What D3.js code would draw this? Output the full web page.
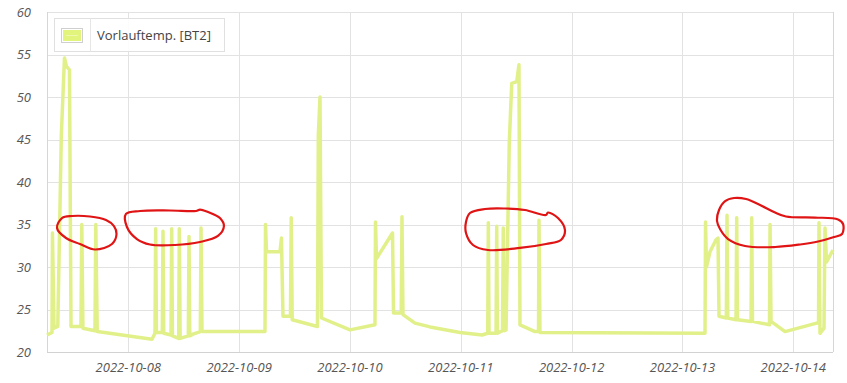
<!DOCTYPE html>
<html><head><meta charset="utf-8">
<script src="https://cdn.jsdelivr.net/npm/d3@7"></script>
<style>
html,body{margin:0;padding:0;background:#fff;}
svg{display:block;}
</style></head>
<body><svg id="chart" width="847" height="383"></svg>
<script>
const seriesName = "Vorlauftemp. [BT2]";

const times = [
  "2022-10-07 06:24","2022-10-07 07:29","2022-10-07 07:35","2022-10-07 07:55","2022-10-07 08:44",
  "2022-10-07 09:30","2022-10-07 10:11","2022-10-07 10:37","2022-10-07 11:16","2022-10-07 11:36",
  "2022-10-07 13:45","2022-10-07 13:56","2022-10-07 14:11","2022-10-07 16:47","2022-10-07 16:58",
  "2022-10-07 17:17","2022-10-08 05:08",
  "2022-10-08 05:47","2022-10-08 05:56","2022-10-08 06:06","2022-10-08 07:22","2022-10-08 07:31",
  "2022-10-08 07:41","2022-10-08 09:15","2022-10-08 09:24","2022-10-08 09:34","2022-10-08 10:55",
  "2022-10-08 11:03","2022-10-08 11:14","2022-10-08 13:00","2022-10-08 13:09","2022-10-08 13:19",
  "2022-10-08 14:01","2022-10-08 15:36","2022-10-08 15:45","2022-10-08 15:58","2022-10-09 05:36",
  "2022-10-09 05:43","2022-10-09 05:56","2022-10-09 08:51","2022-10-09 09:10","2022-10-09 09:30",
  "2022-10-09 11:07","2022-10-09 11:17","2022-10-09 11:30","2022-10-09 16:58","2022-10-09 17:09",
  "2022-10-09 17:31","2022-10-09 17:50","2022-10-10 00:01","2022-10-10 05:25","2022-10-10 05:32",
  "2022-10-10 05:45","2022-10-10 09:13","2022-10-10 09:26","2022-10-10 11:06","2022-10-10 11:16",
  "2022-10-10 11:29","2022-10-10 14:05","2022-10-10 17:20","2022-10-10 23:50","2022-10-11 04:36",
  "2022-10-11 05:50","2022-10-11 05:58","2022-10-11 06:07","2022-10-11 07:38","2022-10-11 07:47",
  "2022-10-11 07:56","2022-10-11 09:02","2022-10-11 09:12","2022-10-11 09:24","2022-10-11 09:48",
  "2022-10-11 10:30","2022-10-11 11:02","2022-10-11 12:07","2022-10-11 12:36","2022-10-11 12:49",
  "2022-10-11 16:04","2022-10-11 16:50","2022-10-11 16:56","2022-10-11 17:09","2022-10-13 04:53",
  "2022-10-13 05:00","2022-10-13 05:12","2022-10-13 05:58","2022-10-13 07:16","2022-10-13 07:42",
  "2022-10-13 07:55","2022-10-13 09:30","2022-10-13 09:39","2022-10-13 09:49","2022-10-13 11:36",
  "2022-10-13 11:45","2022-10-13 11:55","2022-10-13 14:51","2022-10-13 15:00","2022-10-13 15:10",
  "2022-10-13 18:51","2022-10-13 18:58","2022-10-13 19:11","2022-10-13 22:13","2022-10-14 05:04",
  "2022-10-14 05:28","2022-10-14 05:34","2022-10-14 05:47","2022-10-14 06:39","2022-10-14 06:52",
  "2022-10-14 07:12","2022-10-14 08:36"
];
const values = [
  22.0,22.3,34.0,22.8,23.0,
  45.5,54.6,53.6,53.2,23.0,
  23.0,35.0,22.8,22.5,35.0,
  22.4,21.5,
  22.2,34.5,22.3,22.3,34.2,
  22.2,22.0,34.5,21.9,21.6,
  34.5,21.6,21.9,33.6,21.9,
  22.1,22.4,34.6,22.4,22.4,
  35.0,31.8,31.8,33.4,24.2,
  24.2,35.8,23.8,23.0,45.5,
  50.0,24.0,22.6,23.2,35.3,
  31.0,34.0,24.6,24.6,35.9,
  24.4,23.4,22.95,22.3,22.0,
  22.2,35.2,22.2,22.2,34.8,
  22.2,22.5,34.6,22.5,22.6,
  44.6,51.6,51.8,53.8,23.2,
  22.4,22.4,35.5,22.3,22.2,
  35.3,30.0,31.8,33.2,33.4,
  24.2,24.0,36.1,24.0,23.8,
  35.8,23.8,23.6,35.8,23.6,
  23.2,35.0,23.6,22.4,23.4,
  23.4,35.2,22.2,22.8,34.6,
  30.6,32.0
];

const yTicks = [20, 25, 30, 35, 40, 45, 50, 55, 60];
const xTickDates = ["2022-10-08","2022-10-09","2022-10-10","2022-10-11","2022-10-12","2022-10-13","2022-10-14"];

// hand-drawn red marks: [days since 2022-10-08 00:00, value]
const annotationBase = "2022-10-08 00:00";
const loop1 = [[-0.643,34.59],[-0.598,35.76],[-0.508,36.0],[-0.346,35.94],[-0.201,35.53],[-0.129,34.82],[-0.106,33.88],[-0.147,32.71],[-0.300,32.06],[-0.436,32.71],[-0.562,33.41]];
const loop2 = [[-0.021,36.24],[0.106,36.59],[0.376,36.65],[0.611,36.59],[0.647,36.76],[0.719,36.47],[0.827,35.76],[0.863,34.82],[0.809,33.65],[0.647,32.94],[0.421,32.59],[0.196,32.65],[0.078,33.29],[-0.012,34.71]];
const loop3 = [[3.047,35.29],[3.083,36.35],[3.218,36.82],[3.398,36.88],[3.579,36.71],[3.769,36.12],[3.787,36.41],[3.877,35.76],[3.940,34.35],[3.904,33.18],[3.769,32.71],[3.534,32.24],[3.246,32.0],[3.110,32.59],[3.047,34.0]];
const loop4 = [[5.312,35.41],[5.330,36.71],[5.385,37.76],[5.466,38.12],[5.574,38.0],[5.700,37.29],[5.826,36.47],[5.934,35.94],[6.196,35.82],[6.404,35.59],[6.449,35.06],[6.440,33.88],[6.368,33.53],[6.224,33.0],[6.062,32.65],[5.836,32.35],[5.565,32.47],[5.412,33.29],[5.339,34.47]];
const annotationLoops = [loop1, loop2, loop3, loop4];

const W = 847, H = 383;
const margin = {top: 12, right: 14, bottom: 31, left: 47};
const parse = d3.timeParse("%Y-%m-%d %H:%M");
const parseDay = d3.timeParse("%Y-%m-%d");
const data = times.map((t, i) => ({t: parse(t), v: values[i]}));

const svg = d3.select("#chart");
const x = d3.scaleTime().domain(d3.extent(data, d => d.t)).range([margin.left, W - margin.right]);
const y = d3.scaleLinear().domain([20, 60]).range([H - margin.bottom, margin.top]);

const labelFont = "'Open Sans', sans-serif";

// horizontal grid
svg.append("g").selectAll("line").data(yTicks).join("line")
  .attr("x1", margin.left).attr("x2", W - margin.right)
  .attr("y1", d => Math.round(y(d)) + 0.5).attr("y2", d => Math.round(y(d)) + 0.5)
  .attr("stroke", d => d === 20 ? "#d2d2d2" : "#e2e2e2").attr("stroke-width", 1);

// vertical grid
const xTicks = xTickDates.map(parseDay);
svg.append("g").selectAll("line").data(xTicks).join("line")
  .attr("x1", d => Math.round(x(d)) + 0.5).attr("x2", d => Math.round(x(d)) + 0.5)
  .attr("y1", margin.top).attr("y2", H - margin.bottom)
  .attr("stroke", "#e2e2e2");

// frame sides
svg.append("line").attr("x1", margin.left + 0.5).attr("x2", margin.left + 0.5)
  .attr("y1", margin.top).attr("y2", H - margin.bottom).attr("stroke", "#d6d6d6");
svg.append("line").attr("x1", W - margin.right + 0.5).attr("x2", W - margin.right + 0.5)
  .attr("y1", margin.top).attr("y2", H - margin.bottom).attr("stroke", "#d6d6d6");

// y labels
svg.append("g").selectAll("text").data(yTicks).join("text")
  .attr("x", margin.left - 16).attr("y", d => y(d))
  .attr("dy", "0.35em").attr("text-anchor", "end")
  .attr("font-family", labelFont).attr("font-style", "italic").attr("font-size", 13)
  .attr("fill", "#555").text(d => d);

// x labels
const fmt = d3.timeFormat("%Y-%m-%d");
svg.append("g").selectAll("text").data(xTicks).join("text")
  .attr("x", d => x(d)).attr("y", H - margin.bottom + 20)
  .attr("text-anchor", "middle")
  .attr("font-family", labelFont).attr("font-style", "italic").attr("font-size", 13)
  .attr("fill", "#555").text(d => fmt(d));

// series line
const line = d3.line().x(d => x(d.t)).y(d => y(d.v));
svg.append("path").datum(data)
  .attr("d", line).attr("fill", "none")
  .attr("stroke", "#e2f08a").attr("stroke-width", 3.5)
  .attr("stroke-linejoin", "round");

// legend
const lg = svg.append("g");
lg.append("rect").attr("x", 54.5).attr("y", 18.5).attr("width", 170).attr("height", 33)
  .attr("fill", "#fff").attr("fill-opacity", 0.9).attr("stroke", "#e0e0e0");
lg.append("line").attr("x1", 90.5).attr("x2", 90.5).attr("y1", 18.5).attr("y2", 51.5).attr("stroke", "#e6e6e6");
lg.append("rect").attr("x", 61.5).attr("y", 28.5).attr("width", 21).attr("height", 14)
  .attr("fill", "#fff").attr("stroke", "#cfcfcf");
lg.append("rect").attr("x", 63).attr("y", 30).attr("width", 18).attr("height", 11)
  .attr("fill", "#e3f47c");
lg.append("line").attr("x1", 66).attr("x2", 78).attr("y1", 35.5).attr("y2", 35.5)
  .attr("stroke", "#eef9ad").attr("stroke-width", 1);
lg.append("text").attr("x", 97).attr("y", 40)
  .attr("font-family", labelFont).attr("font-size", 13).attr("fill", "#444")
  .text(seriesName);

// red hand-drawn annotations
const base = parse(annotationBase).getTime();
const annLine = d3.line()
  .x(d => x(new Date(base + d[0] * 864e5))).y(d => y(d[1]))
  .curve(d3.curveCatmullRomClosed.alpha(0.5));
svg.append("g").selectAll("path").data(annotationLoops).join("path")
  .attr("d", annLine).attr("fill", "none")
  .attr("stroke", "#e01414").attr("stroke-width", 2.2)
  .attr("stroke-linejoin", "round");
</script>
</body></html>
